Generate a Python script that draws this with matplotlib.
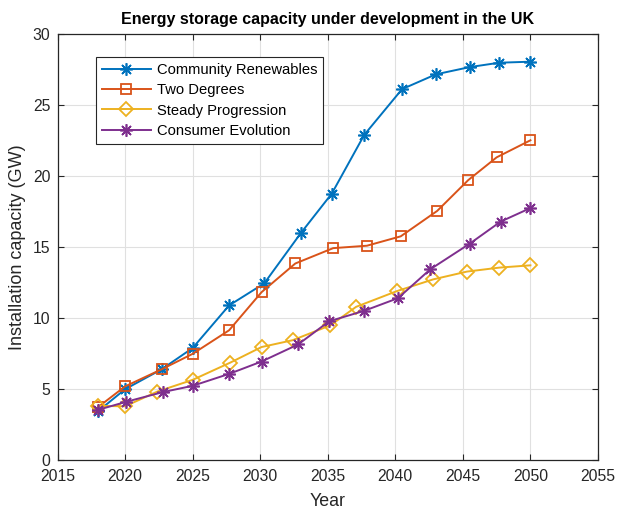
import matplotlib
matplotlib.use("Agg")
import matplotlib.pyplot as plt

plt.rcParams['font.family'] = ['Liberation Sans', 'DejaVu Sans']

series_names = ["Community Renewables", "Two Degrees", "Steady Progression", "Consumer Evolution"]

cr_years = [2018, 2020, 2022.7, 2025, 2027.7, 2030.3, 2033.0, 2035.3, 2037.7, 2040.5, 2043.0, 2045.5, 2047.7, 2050]
cr_vals = [3.45, 5.0, 6.4, 7.9, 10.9, 12.45, 15.98, 18.77, 22.9, 26.12, 27.16, 27.67, 27.98, 28.05]

td_years = [2018, 2020, 2022.7, 2025, 2027.7, 2030.1, 2032.6, 2035.4, 2037.9, 2040.4, 2043.1, 2045.4, 2047.5, 2050]
td_vals = [3.74, 5.2, 6.4, 7.49, 9.15, 11.83, 13.85, 14.93, 15.1, 15.76, 17.55, 19.72, 21.32, 22.52]

sp_years = [2018, 2020, 2022.4, 2025, 2027.8, 2030.1, 2032.4, 2035.2, 2037.1, 2040.1, 2042.8, 2045.3, 2047.7, 2050]
sp_vals = [3.83, 3.8, 4.84, 5.66, 6.88, 7.97, 8.45, 9.5, 10.8, 11.9, 12.73, 13.28, 13.56, 13.72]

ce_years = [2018, 2020.1, 2022.8, 2025, 2027.7, 2030.1, 2032.8, 2035.1, 2037.7, 2040.2, 2042.6, 2045.5, 2047.8, 2050]
ce_vals = [3.55, 4.12, 4.8, 5.24, 6.08, 6.95, 8.15, 9.78, 10.52, 11.41, 13.45, 15.24, 16.8, 17.75]

x_ticks = [2015, 2020, 2025, 2030, 2035, 2040, 2045, 2050, 2055]
y_ticks = [0, 5, 10, 15, 20, 25, 30]

colors = ['#0072BD', '#D95319', '#EDB120', '#7E2F8E']
asterisk = (8, 2, 0)

fig = plt.figure(figsize=(6.17, 5.12), dpi=100)
ax = fig.add_axes([0.0932, 0.101, 0.876, 0.8326])

ax.plot(cr_years, cr_vals, color=colors[0], lw=1.4, marker=asterisk, ms=9, mew=1.2,
        label=series_names[0])
ax.plot(td_years, td_vals, color=colors[1], lw=1.4, marker='s', ms=7.5, mew=1.3,
        mfc='none', label=series_names[1])
ax.plot(sp_years, sp_vals, color=colors[2], lw=1.4, marker='D', ms=7.5, mew=1.3,
        mfc='none', label=series_names[2])
ax.plot(ce_years, ce_vals, color=colors[3], lw=1.4, marker=asterisk, ms=9, mew=1.2,
        label=series_names[3])

ax.set_xlim(2015, 2055)
ax.set_ylim(0, 30)
ax.set_xticks(x_ticks)
ax.set_yticks(y_ticks)
ax.grid(True, color='#e0e0e0', lw=0.8)
ax.set_axisbelow(True)
ax.tick_params(direction='in', top=True, right=True, labelsize=11.3, length=4,
               width=0.8, color='#262626', labelcolor='#262626')
ax.tick_params(axis='x', pad=6)
ax.tick_params(axis='y', pad=5)
for s in ax.spines.values():
    s.set_color('#262626')
    s.set_linewidth(0.9)

ax.set_title('Energy storage capacity under development in the UK', fontsize=11.5,
             fontweight='bold', pad=7)
ax.set_xlabel('Year', fontsize=12.8, color='#262626', labelpad=7)
ax.set_ylabel('Installation capacity (GW)', fontsize=13, color='#262626', labelpad=5)

leg = ax.legend(loc='upper left', bbox_to_anchor=(0.0712, 0.946), borderaxespad=0,
                fontsize=10.6, fancybox=False, framealpha=1, edgecolor='#262626',
                handlelength=3.3, borderpad=0.42, labelspacing=0.42, handletextpad=0.4)
leg.get_frame().set_linewidth(0.8)

fig.savefig('out.png', dpi=100)
